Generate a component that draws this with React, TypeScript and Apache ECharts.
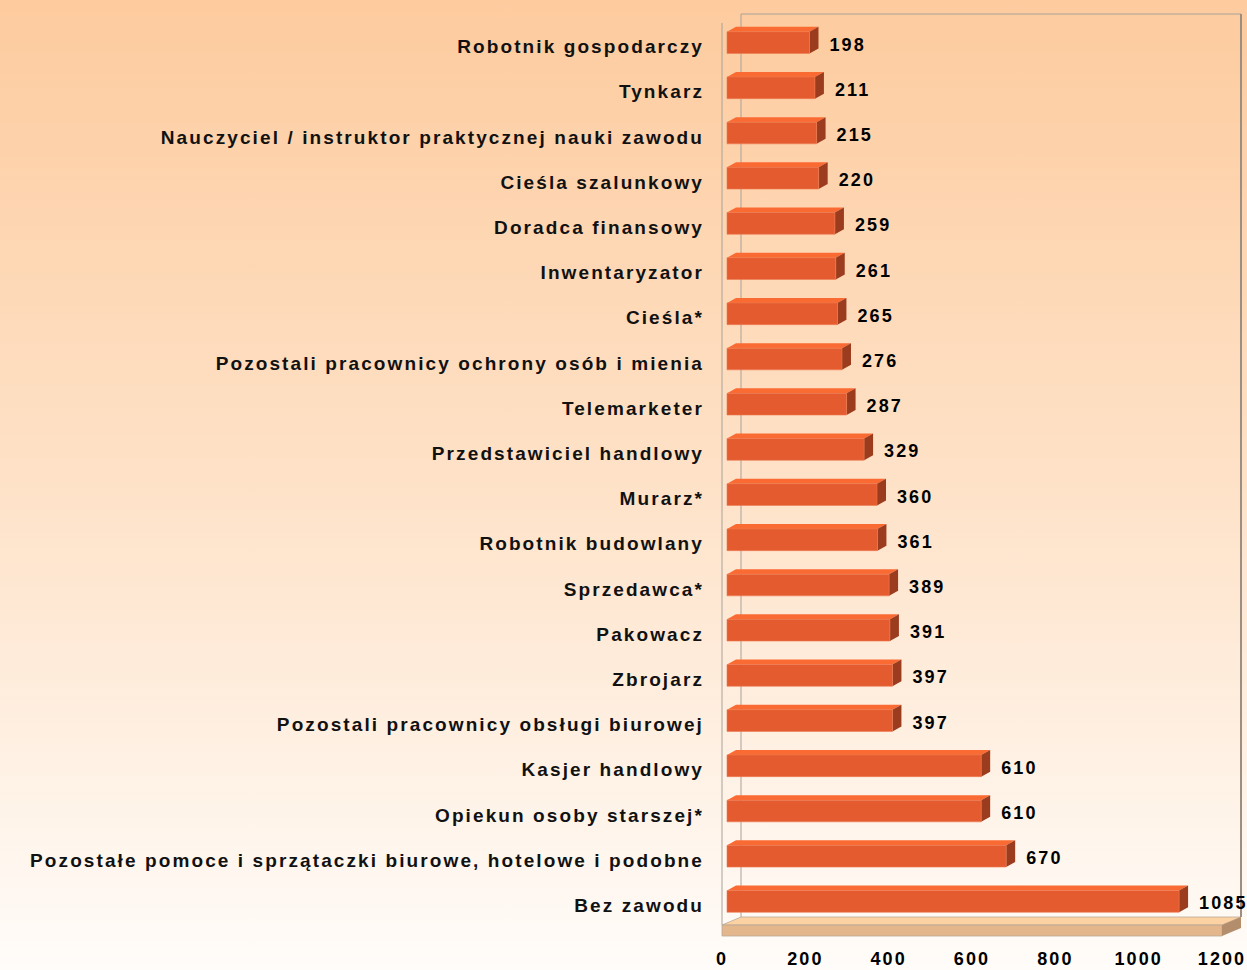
import React, { useEffect, useRef } from "react";
import * as echarts from "echarts";

const categories: string[] = [
  "Robotnik gospodarczy",
  "Tynkarz",
  "Nauczyciel / instruktor praktycznej nauki zawodu",
  "Cieśla szalunkowy",
  "Doradca finansowy",
  "Inwentaryzator",
  "Cieśla*",
  "Pozostali pracownicy ochrony osób i mienia",
  "Telemarketer",
  "Przedstawiciel handlowy",
  "Murarz*",
  "Robotnik budowlany",
  "Sprzedawca*",
  "Pakowacz",
  "Zbrojarz",
  "Pozostali pracownicy obsługi biurowej",
  "Kasjer handlowy",
  "Opiekun osoby starszej*",
  "Pozostałe pomoce i sprzątaczki biurowe, hotelowe i podobne",
  "Bez zawodu",
];

const values: number[] = [
  198, 211, 215, 220, 259, 261, 265, 276, 287, 329, 360, 361, 389, 391, 397, 397, 610, 610, 670, 1085,
];

const xMin = 0;
const xMax = 1200;
const xInterval = 200;

// layout constants
const W = 1247;
const H = 970;
const GL = 722;
const GT = 20;
const GW = 500;
const GH = 904;
const WALL_DX = 19;
const WALL_DY = 8;
const BAR_SHIFT = 5;
const BAR_DX = 9;
const BAR_DY = 5;

const FONT = "'Liberation Sans', Arial, sans-serif";

export default function App() {
  const ref = useRef<HTMLDivElement>(null);

  useEffect(() => {
    if (!ref.current) return;
    const chart = echarts.init(ref.current, undefined, { renderer: "svg", width: W, height: H });

    const floorY = GT + GH + 1;
    const backTop = 14;
    const backL = GL + WALL_DX;
    const backR = GL + GW + WALL_DX;
    const backBottom = floorY - WALL_DY;
    const lineColor = "#A8A29A";

    const graphic: any[] = [
      {
        type: "polygon",
        z: 1,
        shape: {
          points: [
            [GL, floorY],
            [backL, backBottom],
            [backR, backBottom],
            [GL + GW, floorY],
          ],
        },
        style: { fill: "#FDD2A3", stroke: "#B8A898", lineWidth: 0.8 },
      },
      {
        type: "rect",
        z: 1,
        shape: { x: GL, y: floorY, width: GW, height: 11 },
        style: { fill: "#E4B68B", stroke: "#B8A898", lineWidth: 0.8 },
      },
      {
        type: "polygon",
        z: 1,
        shape: {
          points: [
            [GL + GW, floorY],
            [backR, backBottom],
            [backR, backBottom + 11],
            [GL + GW, floorY + 11],
          ],
        },
        style: { fill: "#B38D6C" },
      },
      {
        type: "polyline",
        z: 1,
        shape: {
          points: [
            [backL, backBottom],
            [backL, backTop],
            [backR, backTop],
          ],
        },
        style: { stroke: lineColor, lineWidth: 1, fill: null },
      },
      {
        type: "line",
        z: 1,
        shape: { x1: backR, y1: backTop, x2: backR, y2: backBottom },
        style: { stroke: "#9C8E80", lineWidth: 2 },
      },
      {
        type: "line",
        z: 1,
        shape: { x1: GL, y1: backTop + WALL_DY + 1, x2: GL, y2: floorY },
        style: { stroke: lineColor, lineWidth: 1 },
      },
    ];

    const renderItem = (params: any, api: any) => {
      const v = api.value(0);
      const idx = api.value(1);
      const p0 = api.coord([0, idx]);
      const p1 = api.coord([v, idx]);
      const bh = api.size([0, 1])[1] * 0.48;
      const x0 = p0[0] + BAR_SHIFT;
      const x1 = p1[0] + BAR_SHIFT;
      const yT = p0[1] - bh / 2;
      const yB = p0[1] + bh / 2;
      return {
        type: "group",
        children: [
          {
            type: "polygon",
            shape: {
              points: [
                [x0, yT],
                [x0 + BAR_DX, yT - BAR_DY],
                [x1 + BAR_DX, yT - BAR_DY],
                [x1, yT],
              ],
            },
            style: { fill: "#FA6A33" },
          },
          {
            type: "polygon",
            shape: {
              points: [
                [x1, yT],
                [x1 + BAR_DX, yT - BAR_DY],
                [x1 + BAR_DX, yB - BAR_DY],
                [x1, yB],
              ],
            },
            style: { fill: "#9B3C1E" },
          },
          {
            type: "rect",
            shape: { x: x0, y: yT, width: x1 - x0, height: bh },
            style: { fill: "#E35B2E", stroke: "#EE7A52", lineWidth: 0.6 },
          },
          {
            type: "text",
            style: {
              text: String(v),
              x: x1 + 20,
              y: p0[1] + 2,
              fill: "#000",
              fontSize: 18,
              fontWeight: "bold",
              fontFamily: FONT,
              align: "left",
              verticalAlign: "middle",
            },
          },
        ],
      };
    };

    chart.setOption({
      animation: false,
      backgroundColor: {
        type: "linear",
        x: 0,
        y: 0,
        x2: 0,
        y2: 1,
        colorStops: [
          { offset: 0, color: "#FDCB9E" },
          { offset: 0.5, color: "#FEE2C8" },
          { offset: 1, color: "#FFFCF9" },
        ],
      },
      graphic,
      grid: { left: GL, top: GT, width: GW, height: GH },
      xAxis: {
        type: "value",
        min: xMin,
        max: xMax,
        interval: xInterval,
        axisLine: { show: false },
        axisTick: { show: false },
        splitLine: { show: false },
        axisLabel: {
          margin: 26,
          fontSize: 18,
          fontWeight: "bold",
          fontFamily: FONT,
          color: "#000",
          formatter: (v: number) => String(v),
        },
      },
      yAxis: {
        type: "category",
        data: categories,
        inverse: true,
        axisLine: { show: false },
        axisTick: { show: false },
        splitLine: { show: false },
        axisLabel: {
          margin: 18,
          fontSize: 19,
          fontWeight: "bold",
          fontFamily: FONT,
          color: "#111",
          verticalAlign: "top",
          lineHeight: 8,
        },
      },
      series: [
        {
          type: "custom",
          z: 5,
          clip: false,
          renderItem,
          encode: { x: 0, y: 1 },
          data: values.map((v, i) => [v, i]),
        },
      ],
    });

    return () => {
      chart.dispose();
    };
  }, []);

  return (
    <>
      <style>{`body{margin:0} .chartbox text{letter-spacing:2.1px}`}</style>
      <div
        ref={ref}
        className="chartbox"
        style={{ position: "absolute", left: 0, top: 0, width: W, height: H }}
      />
    </>
  );
}
